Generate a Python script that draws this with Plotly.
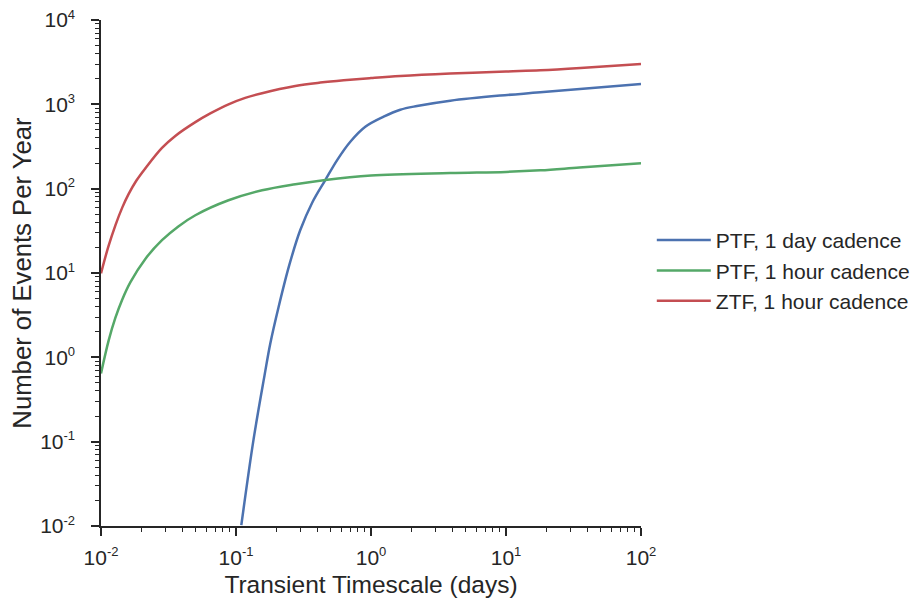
import plotly.graph_objects as go

# Data
ptf_day_x = [0.1095, 0.1350, 0.1628, 0.1795, 0.2068, 0.2481, 0.2994, 0.3674, 0.4585, 0.5628,
             0.7027, 0.9074, 1.240, 1.648, 2.191, 3.867, 9.07, 17.95, 100]
ptf_day_y = [0.01022, 0.1071, 0.615, 1.462, 3.96, 12.4, 32.3, 68.6, 126.4, 219.6,
             360, 542, 714, 863, 955, 1104, 1271, 1387, 1741]

ptf_hour_x = [0.01, 0.0114, 0.01277, 0.0143, 0.01648, 0.0213, 0.0283, 0.0374, 0.05, 0.088, 0.156,
              0.275, 0.459, 1, 3.86, 10, 18, 35, 100]
ptf_hour_y = [0.644, 1.59, 2.93, 4.76, 7.74, 14.7, 24.5, 35.7, 48.4, 72.8, 95.7,
              113, 127, 143, 153, 158, 165, 178, 200]

ztf_hour_x = [0.01, 0.01132, 0.0128, 0.01439, 0.016, 0.01825, 0.0213, 0.0283, 0.0355, 0.05, 0.0645,
              0.088, 0.117, 0.156, 0.275, 0.421, 0.627, 1, 1.65, 3.86, 10, 18, 35.6, 100]
ztf_hour_y = [9.9, 20.4, 37, 60, 86, 124, 174, 304, 422, 615, 780,
              1000, 1191, 1356, 1650, 1810, 1930, 2050, 2170, 2320, 2450, 2530, 2690, 3007]

series_names = ["PTF, 1 day cadence", "PTF, 1 hour cadence", "ZTF, 1 hour cadence"]
series_colors = ["#4C72B0", "#55A868", "#C44E52"]

x_tickvals = [0.01, 0.1, 1, 10, 100]
x_exponents = ["-2", "-1", "0", "1", "2"]
y_tickvals = [0.01, 0.1, 1, 10, 100, 1000, 10000]
y_exponents = ["-2", "-1", "0", "1", "2", "3", "4"]


def power_label(e):
    return '10<sup><span style="font-size:13px">' + e + '</span></sup>'


FONT = "Liberation Sans, Arial, Helvetica, sans-serif"
DARK = "#262626"

fig = go.Figure()
for xs, ys, name, color in zip([ptf_day_x, ptf_hour_x, ztf_hour_x],
                               [ptf_day_y, ptf_hour_y, ztf_hour_y],
                               series_names, series_colors):
    fig.add_trace(go.Scatter(x=xs, y=ys, mode="lines", name=name,
                             line=dict(color=color, width=2.5, shape="spline", smoothing=1.0)))

axis_common = dict(
    type="log", showgrid=False, zeroline=False, showline=True, automargin=False,
    linecolor=DARK, linewidth=1.5, ticks="outside", ticklen=8, tickwidth=1.5,
    tickcolor=DARK, tickmode="array", ticklabeloverflow="allow",
    tickfont=dict(family=FONT, size=21, color=DARK),
    minor=dict(ticks="outside", ticklen=4, tickwidth=1.2, tickcolor=DARK, dtick="D1", showgrid=False),
    mirror=False,
)

fig.update_xaxes(**axis_common, range=[-2, 2], tickvals=x_tickvals, ticklabelstandoff=4,
                 ticktext=[power_label(e) for e in x_exponents],
                 title=dict(text="Transient Timescale (days)", font=dict(family=FONT, size=24.5, color=DARK), standoff=9))
fig.update_yaxes(**axis_common, range=[-2, 4], tickvals=y_tickvals, ticklabelstandoff=12,
                 ticktext=[power_label(e) for e in y_exponents],
                 title=dict(text="Number of Events Per Year", font=dict(family=FONT, size=25.7, color=DARK), standoff=4))

# The page body keeps its default 8px margin; the figure is sized so the plot area
# lands where it is in the reference (x 101-641, y 20-526 on screen).
fig.update_layout(
    width=927, height=590,
    margin=dict(l=93, r=294, t=12, b=72),
    plot_bgcolor="white", paper_bgcolor="white",
    font=dict(family=FONT, color=DARK),
    legend=dict(x=1.02, y=0.505, xanchor="left", yanchor="middle", itemwidth=54,
                font=dict(family=FONT, size=21, color=DARK),
                bgcolor="rgba(0,0,0,0)", borderwidth=0),
    showlegend=True,
)

fig.write_html("out.html")
